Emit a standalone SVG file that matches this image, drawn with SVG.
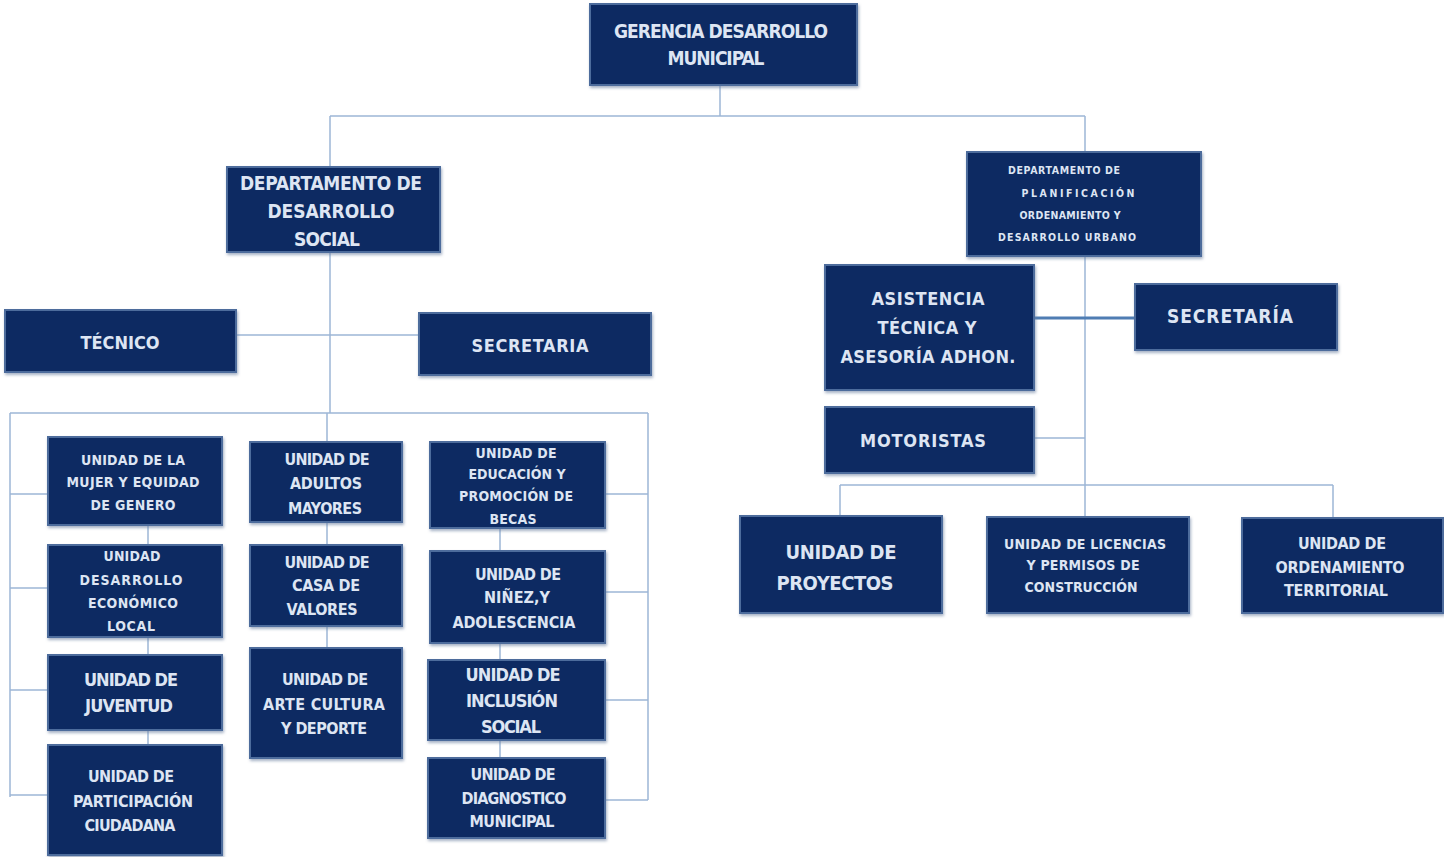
<svg xmlns="http://www.w3.org/2000/svg" width="1444" height="857" viewBox="0 0 1444 857">
<defs>
<filter id="sh" x="-5%" y="-5%" width="112%" height="115%">
<feDropShadow dx="1" dy="2" stdDeviation="1.5" flood-color="#6b7f9f" flood-opacity="0.6"/>
</filter>
<style>
.box{fill:#0f2a62;stroke:#4d6c9c;stroke-width:2;filter:url(#sh)}
.ln{fill:none;stroke:#9db6d6;stroke-width:1.5}
.lnb{fill:none;stroke:#4f7db3;stroke-width:3}
text{font-family:"DejaVu Sans Condensed","DejaVu Sans",sans-serif;font-weight:bold;fill:#dde5f3;text-anchor:middle}
</style>
</defs>
<rect width="1444" height="857" fill="#ffffff"/>
<g id="connectors">
<path class="ln" d="M720 85V116M330 116H1085M330 116V413M236 335H419"/>
<path class="ln" d="M10 413H648M10 413V797M10 494H48M10 588H48M10 690H48M10 795H48"/>
<path class="ln" d="M648 413V800M605 494H648M605 592H648M605 700H648M605 800H648"/>
<path class="ln" d="M148 525V745M327 413V648M500 528V758"/>
<path class="ln" d="M1085 116V517M840 485H1333M840 485V516M1333 485V518M1034 438H1085"/>
<path class="lnb" d="M1034 318H1135"/>
</g>
<g id="gerencia"><rect class="box" x="590" y="4" width="267" height="81"/>
<text x="721" y="38" font-size="19" textLength="214" lengthAdjust="spacing">GERENCIA DESARROLLO</text>
<text x="716" y="65" font-size="19" textLength="97" lengthAdjust="spacing">MUNICIPAL</text></g>
<g id="dep-social"><rect class="box" x="227" y="167" width="213" height="85"/>
<text x="331" y="190" font-size="19" textLength="182" lengthAdjust="spacing">DEPARTAMENTO DE</text>
<text x="331" y="218" font-size="19" textLength="127" lengthAdjust="spacing">DESARROLLO</text>
<text x="327" y="246" font-size="19" textLength="66" lengthAdjust="spacing">SOCIAL</text></g>
<g id="tecnico"><rect class="box" x="5" y="310" width="231" height="62"/>
<text x="120" y="349" font-size="18" textLength="79" lengthAdjust="spacing">TÉCNICO</text></g>
<g id="secretaria-social"><rect class="box" x="419" y="313" width="232" height="62"/>
<text x="530" y="352" font-size="18" textLength="117" lengthAdjust="spacing">SECRETARIA</text></g>
<g id="u-mujer"><rect class="box" x="48" y="437" width="174" height="88"/>
<text x="133" y="465" font-size="14" textLength="104" lengthAdjust="spacing">UNIDAD DE LA</text>
<text x="133" y="487" font-size="14" textLength="133" lengthAdjust="spacing">MUJER Y EQUIDAD</text>
<text x="133" y="510" font-size="14" textLength="85" lengthAdjust="spacing">DE GENERO</text></g>
<g id="u-economico"><rect class="box" x="48" y="545" width="174" height="92"/>
<text x="132" y="561" font-size="14" textLength="57" lengthAdjust="spacing">UNIDAD</text>
<text x="131" y="585" font-size="14" textLength="103" lengthAdjust="spacing">DESARROLLO</text>
<text x="133" y="608" font-size="14" textLength="90" lengthAdjust="spacing">ECONÓMICO</text>
<text x="131" y="631" font-size="14" textLength="48" lengthAdjust="spacing">LOCAL</text></g>
<g id="u-juventud"><rect class="box" x="48" y="655" width="174" height="75"/>
<text x="131" y="686" font-size="18" textLength="94" lengthAdjust="spacing">UNIDAD DE</text>
<text x="129" y="712" font-size="18" textLength="88" lengthAdjust="spacing">JUVENTUD</text></g>
<g id="u-participacion"><rect class="box" x="48" y="745" width="174" height="110"/>
<text x="131" y="782" font-size="16" textLength="86" lengthAdjust="spacing">UNIDAD DE</text>
<text x="133" y="807" font-size="16" textLength="120" lengthAdjust="spacing">PARTICIPACIÓN</text>
<text x="130" y="831" font-size="16" textLength="91" lengthAdjust="spacing">CIUDADANA</text></g>
<g id="u-adultos"><rect class="box" x="250" y="442" width="152" height="80"/>
<text x="327" y="465" font-size="16" textLength="85" lengthAdjust="spacing">UNIDAD DE</text>
<text x="326" y="489" font-size="16" textLength="72" lengthAdjust="spacing">ADULTOS</text>
<text x="325" y="514" font-size="16" textLength="74" lengthAdjust="spacing">MAYORES</text></g>
<g id="u-casa"><rect class="box" x="250" y="545" width="152" height="81"/>
<text x="327" y="568" font-size="16" textLength="85" lengthAdjust="spacing">UNIDAD DE</text>
<text x="326" y="591" font-size="16" textLength="68" lengthAdjust="spacing">CASA DE</text>
<text x="322" y="615" font-size="16" textLength="71" lengthAdjust="spacing">VALORES</text></g>
<g id="u-arte"><rect class="box" x="250" y="648" width="152" height="110"/>
<text x="325" y="685" font-size="16" textLength="86" lengthAdjust="spacing">UNIDAD DE</text>
<text x="324" y="710" font-size="16" textLength="122" lengthAdjust="spacing">ARTE  CULTURA</text>
<text x="324" y="734" font-size="16" textLength="86" lengthAdjust="spacing">Y DEPORTE</text></g>
<g id="u-educacion"><rect class="box" x="430" y="442" width="175" height="86"/>
<text x="516" y="458" font-size="14" textLength="81" lengthAdjust="spacing">UNIDAD DE</text>
<text x="517" y="479" font-size="14" textLength="97" lengthAdjust="spacing">EDUCACIÓN Y</text>
<text x="516" y="501" font-size="14" textLength="114" lengthAdjust="spacing">PROMOCIÓN DE</text>
<text x="513" y="524" font-size="14" textLength="47" lengthAdjust="spacing">BECAS</text></g>
<g id="u-ninez"><rect class="box" x="430" y="551" width="175" height="92"/>
<text x="518" y="580" font-size="16" textLength="86" lengthAdjust="spacing">UNIDAD DE</text>
<text x="517" y="603" font-size="16" textLength="66" lengthAdjust="spacing">NIÑEZ,Y</text>
<text x="514" y="628" font-size="16" textLength="123" lengthAdjust="spacing">ADOLESCENCIA</text></g>
<g id="u-inclusion"><rect class="box" x="428" y="660" width="177" height="80"/>
<text x="513" y="681" font-size="18" textLength="95" lengthAdjust="spacing">UNIDAD DE</text>
<text x="512" y="707" font-size="18" textLength="92" lengthAdjust="spacing">INCLUSIÓN</text>
<text x="511" y="733" font-size="18" textLength="60" lengthAdjust="spacing">SOCIAL</text></g>
<g id="u-diagnostico"><rect class="box" x="428" y="758" width="177" height="80"/>
<text x="513" y="780" font-size="16" textLength="85" lengthAdjust="spacing">UNIDAD DE</text>
<text x="514" y="804" font-size="16" textLength="105" lengthAdjust="spacing">DIAGNOSTICO</text>
<text x="512" y="827" font-size="16" textLength="85" lengthAdjust="spacing">MUNICIPAL</text></g>
<g id="dep-planificacion"><rect class="box" x="967" y="152" width="234" height="104"/>
<text x="1064" y="174" font-size="10.5" textLength="112" lengthAdjust="spacing">DEPARTAMENTO DE</text>
<text x="1078" y="197" font-size="10.5" textLength="113" lengthAdjust="spacing">PLANIFICACIÓN</text>
<text x="1070" y="219" font-size="10.5" textLength="101" lengthAdjust="spacing">ORDENAMIENTO Y</text>
<text x="1067" y="241" font-size="10.5" textLength="138" lengthAdjust="spacing">DESARROLLO URBANO</text></g>
<g id="asistencia"><rect class="box" x="825" y="265" width="209" height="125"/>
<text x="928" y="305" font-size="18" textLength="113" lengthAdjust="spacing">ASISTENCIA</text>
<text x="927" y="334" font-size="18" textLength="99" lengthAdjust="spacing">TÉCNICA Y</text>
<text x="928" y="363" font-size="18" textLength="175" lengthAdjust="spacing">ASESORÍA ADHON.</text></g>
<g id="secretaria-plan"><rect class="box" x="1135" y="284" width="202" height="66"/>
<text x="1230" y="323" font-size="19" textLength="126" lengthAdjust="spacing">SECRETARÍA</text></g>
<g id="motoristas"><rect class="box" x="825" y="407" width="209" height="66"/>
<text x="923" y="447" font-size="18" textLength="126" lengthAdjust="spacing">MOTORISTAS</text></g>
<g id="u-proyectos"><rect class="box" x="740" y="516" width="202" height="97"/>
<text x="841" y="559" font-size="20" textLength="111" lengthAdjust="spacing">UNIDAD DE</text>
<text x="835" y="590" font-size="20" textLength="117" lengthAdjust="spacing">PROYECTOS</text></g>
<g id="u-licencias"><rect class="box" x="987" y="517" width="202" height="96"/>
<text x="1085" y="549" font-size="14" textLength="162" lengthAdjust="spacing">UNIDAD DE LICENCIAS</text>
<text x="1083" y="570" font-size="14" textLength="113" lengthAdjust="spacing">Y PERMISOS DE</text>
<text x="1081" y="592" font-size="14" textLength="113" lengthAdjust="spacing">CONSTRUCCIÓN</text></g>
<g id="u-ordenamiento"><rect class="box" x="1242" y="518" width="201" height="95"/>
<text x="1342" y="549" font-size="16" textLength="88" lengthAdjust="spacing">UNIDAD DE</text>
<text x="1340" y="573" font-size="16" textLength="129" lengthAdjust="spacing">ORDENAMIENTO</text>
<text x="1336" y="596" font-size="16" textLength="104" lengthAdjust="spacing">TERRITORIAL</text></g>
</svg>
